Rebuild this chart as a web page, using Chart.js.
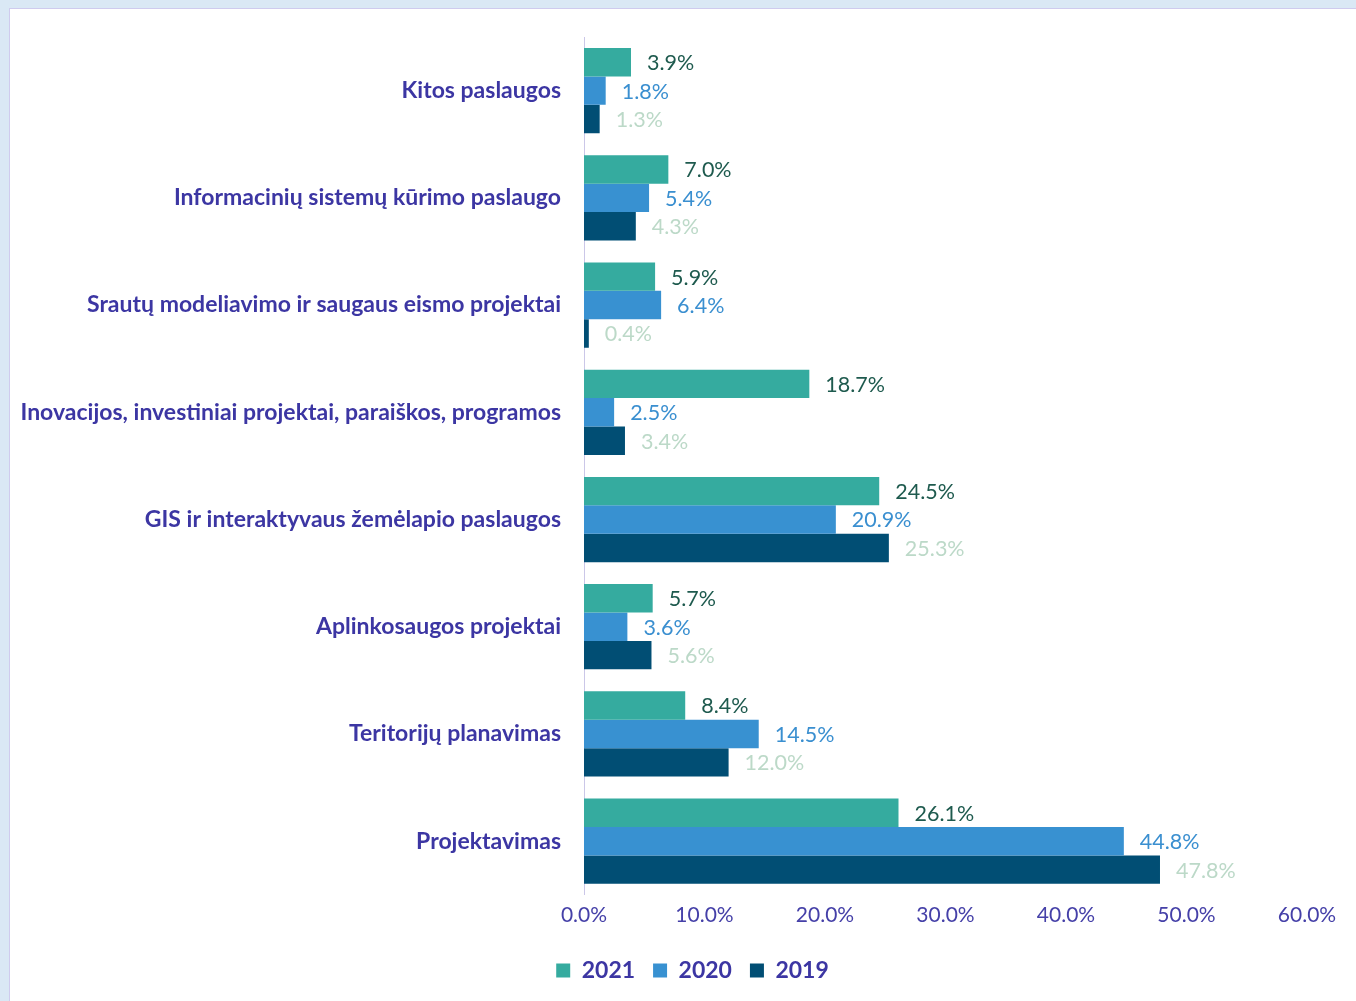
<!DOCTYPE html>
<html>
<head>
<meta charset="utf-8">
<script src="https://cdn.jsdelivr.net/npm/chart.js@4.4.1/dist/chart.umd.min.js"></script>
<style>
  html, body { margin: 0; padding: 0; }
  body { width: 1356px; height: 1001px; background: #dae8f5; position: relative; overflow: hidden; }
  #panel {
    position: absolute; left: 9px; top: 8px; width: 1360px; height: 1000px;
    background: #ffffff; border-left: 1px solid #cfcbee; border-top: 1px solid #cfcbee;
  }
  #wrap { position: absolute; left: 0; top: 0; width: 1356px; height: 1001px; }
</style>
</head>
<body>
<div id="panel"></div>
<div id="wrap"><canvas id="bar-canvas" width="1356" height="1001"></canvas></div>
<script>
var categories = [
    'Kitos paslaugos',
    'Informacinių sistemų kūrimo paslaugo',
    'Srautų modeliavimo ir saugaus eismo projektai',
    'Inovacijos, investiniai projektai, paraiškos, programos',
    'GIS ir interaktyvaus žemėlapio paslaugos',
    'Aplinkosaugos projektai',
    'Teritorijų planavimas',
    'Projektavimas'
];
var values2021 = [3.9, 7.0, 5.9, 18.7, 24.5, 5.7, 8.4, 26.1];
var values2020 = [1.8, 5.4, 6.4, 2.5, 20.9, 3.6, 14.5, 44.8];
var values2019 = [1.3, 4.3, 0.4, 3.4, 25.3, 5.6, 12.0, 47.8];
var seriesNames = ['2021', '2020', '2019'];
var tickValues = [0, 10, 20, 30, 40, 50, 60];

var barColors = ['#35ab9f', '#3891d1', '#014e74'];
var labelColors = ['#1e5a4e', '#3a8fd0', '#bcd9c8'];
var textColor = '#3c36a3';

// values next to each bar
var barValueLabels = {
    id: 'barValueLabels',
    afterDatasetsDraw: function (chart) {
        var ctx = chart.ctx;
        ctx.save();
        ctx.font = '21.5px Lato';
        ctx.textAlign = 'left';
        ctx.textBaseline = 'middle';
        chart.data.datasets.forEach(function (ds, i) {
            var meta = chart.getDatasetMeta(i);
            ctx.fillStyle = labelColors[i];
            meta.data.forEach(function (bar, j) {
                ctx.fillText(ds.data[j].toFixed(1) + '%', bar.x + 16, bar.y + 1);
            });
        });
        ctx.restore();
    }
};

// legend sits a bit right of the canvas centre in the original
var legendShift = {
    id: 'legendShift',
    afterLayout: function (chart) {
        chart.legend.left += 34;
        chart.legend.right += 34;
    }
};

var barConfig = {
    type: 'bar',
    data: {
        labels: categories,
        datasets: [
            { label: seriesNames[0], data: values2021, backgroundColor: barColors[0] },
            { label: seriesNames[1], data: values2020, backgroundColor: barColors[1] },
            { label: seriesNames[2], data: values2019, backgroundColor: barColors[2] }
        ]
    },
    options: {
        indexAxis: 'y',
        responsive: false,
        animation: false,
        categoryPercentage: 0.795,
        barPercentage: 1.0,
        layout: { padding: { left: 10, right: 49, top: 37, bottom: 9 } },
        scales: {
            x: {
                min: 0,
                max: 60,
                afterBuildTicks: function (scale) {
                    scale.ticks = tickValues.map(function (v) { return { value: v }; });
                },
                afterFit: function (scale) { scale.height += 13; },
                grid: { display: false },
                border: { display: false },
                ticks: {
                    color: '#4540a8',
                    font: { family: 'Lato', size: 21 },
                    padding: 0,
                    callback: function (v) { return v.toFixed(1) + '%'; }
                }
            },
            y: {
                afterFit: function (scale) { scale.width = 574; },
                grid: { display: false },
                border: { display: true, color: '#cbc7e8', width: 1 },
                ticks: {
                    color: textColor,
                    font: { family: 'Lato', size: 23, weight: 'bold' },
                    padding: 15
                }
            }
        },
        plugins: {
            legend: {
                position: 'bottom',
                labels: {
                    color: textColor,
                    font: { family: 'Lato', size: 23, weight: 'bold' },
                    boxWidth: 14,
                    boxHeight: 14,
                    padding: 18
                }
            },
            tooltip: { enabled: false }
        }
    },
    plugins: [barValueLabels, legendShift]
};

var ctx = document.getElementById('bar-canvas').getContext('2d');
window.myBar = new Chart(ctx, barConfig);
</script>
</body>
</html>
